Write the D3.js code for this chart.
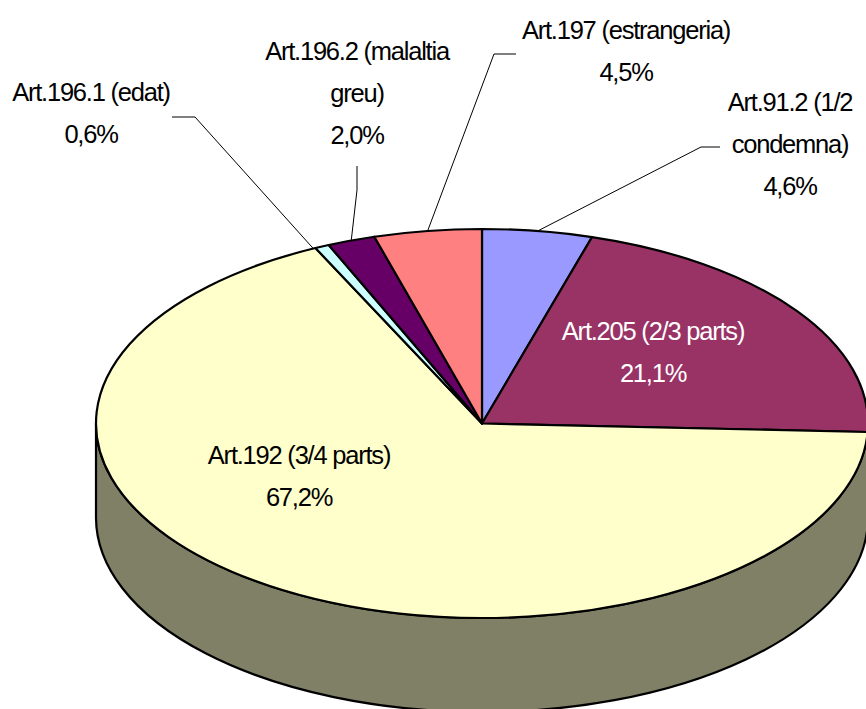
<!DOCTYPE html>
<html>
<head>
<meta charset="utf-8">
<script src="https://cdn.jsdelivr.net/npm/d3@7"></script>
<style>
html,body{margin:0;padding:0;background:#fff;overflow:hidden}
svg{display:block}
text{font-family:"Liberation Sans",Arial,sans-serif;font-size:25.5px;letter-spacing:-1.22px;text-anchor:middle}
</style>
</head>
<body>
<script>
const categories = ["Art.91.2 (1/2 condemna)","Art.205 (2/3 parts)","Art.192 (3/4 parts)","Art.196.1 (edat)","Art.196.2 (malaltia greu)","Art.197 (estrangeria)"];
const values = [4.6,21.1,67.2,0.6,2.0,4.5];
const valueLabels = ["4,6%","21,1%","67,2%","0,6%","2,0%","4,5%"];
const colors = ["#9999FF","#993366","#FFFFCC","#CCFFFF","#660066","#FF8080"];
const labelLines = [["Art.91.2 (1/2","condemna)"],["Art.205 (2/3 parts)"],["Art.192 (3/4 parts)"],["Art.196.1 (edat)"],["Art.196.2 (malaltia","greu)"],["Art.197 (estrangeria)"]];
const labelColors = ["#000","#fff","#000","#000","#000","#000"];

const W=866,H=709,cx=482,cy=423.5,rx=386,ry=194.5,depth=94,lineH=42;
const labelPos=[[790,111],[653,340],[299,464],[91,101],[357,60],[626,38.5]];
const elbows=[[[720,147],[701,147]],null,null,[[172,117],[195,117]],[[357,166],[357,190]],[[516,54],[494,54]]];
const leaderAngleShift=[0,0,0,-0.025,0,0];

const svg=d3.select("body").append("svg").attr("width",W).attr("height",H).attr("viewBox",`0 0 ${W} ${H}`);
const pie=d3.pie().sort(null).value(d=>d)(values);
const X=a=>cx+rx*Math.sin(a), Y=a=>cy-ry*Math.cos(a);
const half=c=>{const r=d3.rgb(c);return d3.rgb(r.r/2,r.g/2,r.b/2).formatHex();};

// side wall: only the front half of the ellipse (90deg..270deg) is visible
const lo=Math.PI/2,hi=3*Math.PI/2;
svg.append("g").selectAll("path").data(pie.filter(d=>d.endAngle>lo&&d.startAngle<hi)).join("path")
  .attr("d",d=>{
    const a=Math.max(d.startAngle,lo),b=Math.min(d.endAngle,hi),lg=(b-a)>Math.PI?1:0;
    return `M${X(a)},${Y(a)}A${rx},${ry} 0 ${lg} 1 ${X(b)},${Y(b)}L${X(b)},${Y(b)+depth}A${rx},${ry} 0 ${lg} 0 ${X(a)},${Y(a)+depth}Z`;
  })
  .attr("fill",d=>half(colors[d.index])).attr("stroke","#000").attr("stroke-width",2.2).attr("stroke-linejoin","round");

// top face
const arc=d3.arc().innerRadius(0).outerRadius(rx);
svg.append("g").attr("transform",`translate(${cx},${cy}) scale(1,${ry/rx})`)
  .selectAll("path").data(pie).join("path")
  .attr("d",arc).attr("fill",d=>colors[d.index])
  .attr("stroke","#000").attr("stroke-width",2.2).attr("vector-effect","non-scaling-stroke").attr("stroke-linejoin","round");

// leaders
const line=d3.line();
svg.append("g").selectAll("path").data(pie.filter(d=>elbows[d.index])).join("path")
  .attr("d",d=>{
    const m=(d.startAngle+d.endAngle)/2+leaderAngleShift[d.index];
    return line([...elbows[d.index],[X(m),Y(m)]]);
  })
  .attr("fill","none").attr("stroke","#000").attr("stroke-width",1);

// labels
const g=svg.append("g");
pie.forEach(d=>{
  const i=d.index,[x,y]=labelPos[i];
  const t=g.append("text").attr("x",x).attr("y",y).attr("fill",labelColors[i]);
  [...labelLines[i],valueLabels[i]].forEach((s,k)=>{
    t.append("tspan").attr("x",x).attr("y",y+k*lineH).text(s);
  });
});
</script>
</body>
</html>
